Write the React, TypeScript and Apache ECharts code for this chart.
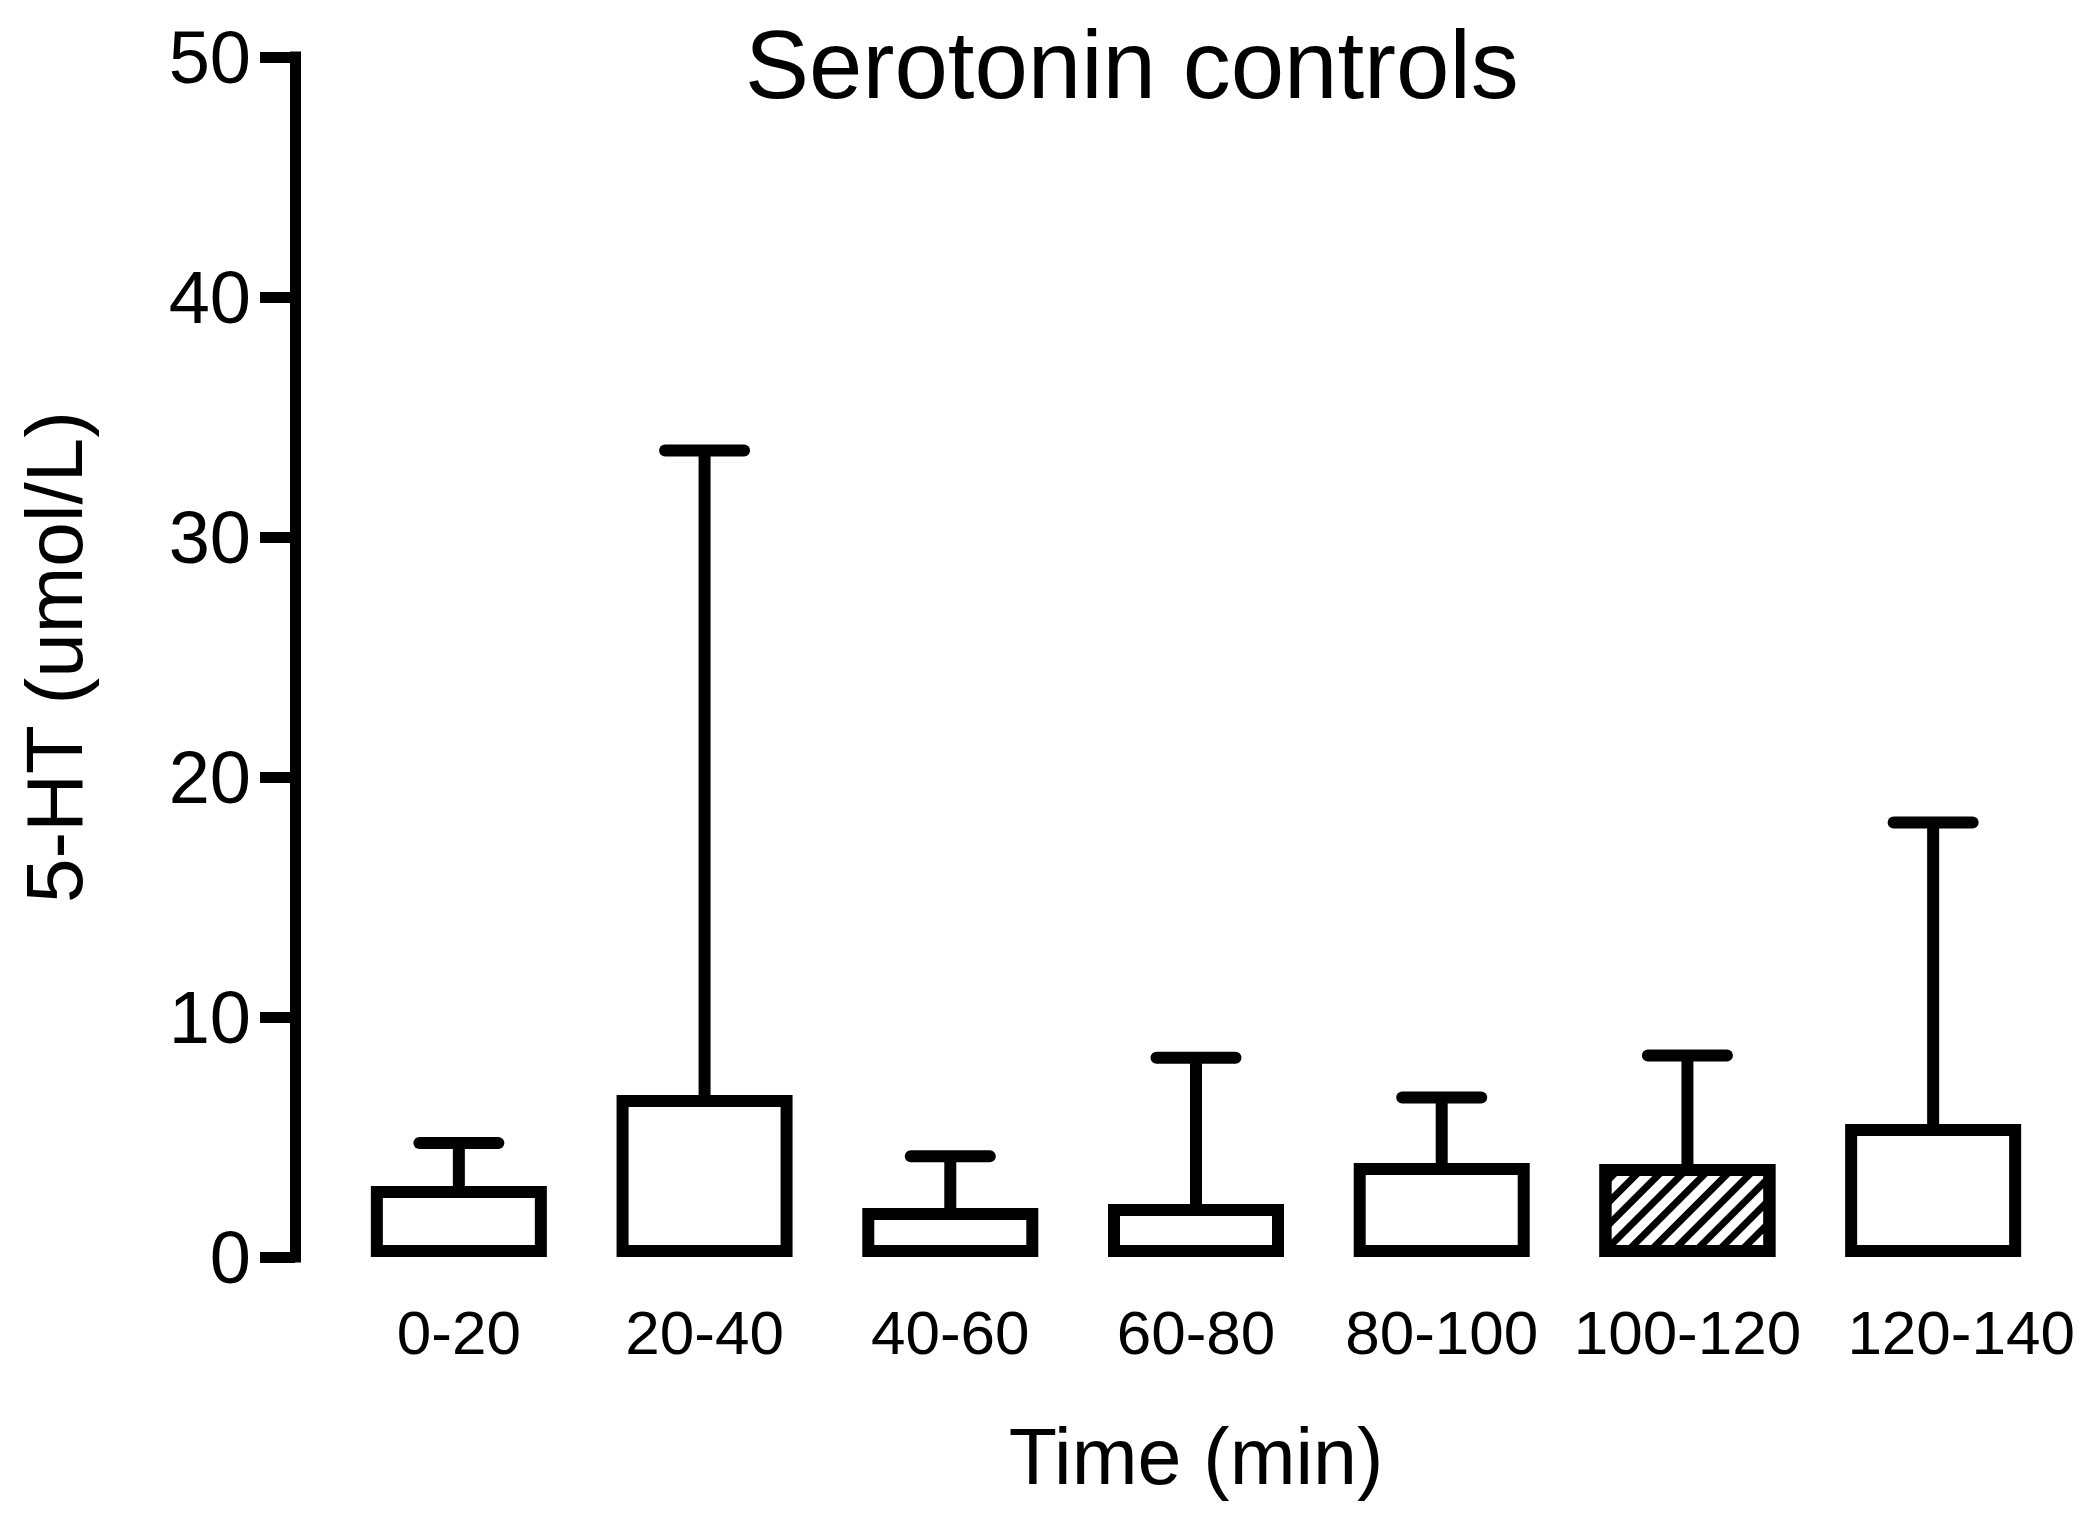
import React, { useEffect, useRef } from "react";
import * as echarts from "echarts";

const categories = ["0-20", "20-40", "40-60", "60-80", "80-100", "100-120", "120-140"];
const means = [2.96, 6.75, 2.04, 2.21, 3.92, 3.88, 5.54];
const upperErrors = [4.75, 33.6, 4.2, 8.3, 6.65, 8.4, 18.1];
const hatchedIndex = 5;
const yTicks = { min: 0, max: 50, interval: 10 };

const FONT = "'Liberation Sans', Arial, Helvetica, sans-serif";

export default function App() {
  const ref = useRef<HTMLDivElement>(null);

  useEffect(() => {
    if (!ref.current) return;
    const chart = echarts.init(ref.current, null, { renderer: "svg" });

    const barData = means.map((v, i) =>
      i === hatchedIndex
        ? {
            value: v,
            itemStyle: {
              color: "#fff",
              borderColor: "#000",
              borderWidth: 12,
              decal: {
                symbol: "rect",
                symbolSize: 1,
                dashArrayX: [1, 0],
                dashArrayY: [7, 9],
                rotation: -Math.PI / 4,
                color: "#000",
                backgroundColor: "#fff",
              },
            },
          }
        : v
    );

    const errData = means.map((v, i) => [i, v, upperErrors[i]]);

    chart.setOption({
      animation: false,
      backgroundColor: "#fff",
      title: {
        text: "Serotonin controls",
        left: 745,
        top: 16,
        padding: 0,
        textStyle: { fontSize: 96, fontWeight: "normal", color: "#000", fontFamily: FONT },
      },
      grid: { left: 336, right: 32, top: 57, bottom: 271 },
      xAxis: {
        type: "category",
        data: categories,
        axisLine: { show: false },
        axisTick: { show: false },
        axisLabel: {
          interval: 0,
          fontSize: 62,
          color: "#000",
          fontFamily: FONT,
          margin: 44,
          formatter: (v: string) => (v === "120-140" ? "{shift|" + v + "}" : v),
          rich: {
            shift: { fontSize: 62, color: "#000", fontFamily: FONT, padding: [0, 0, 0, 56] },
          },
        },
        name: "Time (min)",
        nameLocation: "middle",
        nameGap: 160,
        nameTextStyle: { fontSize: 79, color: "#000", fontFamily: FONT },
      },
      yAxis: {
        type: "value",
        min: yTicks.min,
        max: yTicks.max,
        interval: yTicks.interval,
        offset: 41,
        axisLine: { show: true, lineStyle: { color: "#000", width: 11, cap: "square" } },
        axisTick: { show: true, length: 35, lineStyle: { color: "#000", width: 11 } },
        splitLine: { show: false },
        axisLabel: { fontSize: 74, color: "#000", fontFamily: FONT, margin: 44 },
        name: "5-HT (umol/L)",
        nameLocation: "middle",
        nameGap: 201,
        nameTextStyle: { fontSize: 80, color: "#000", fontFamily: FONT },
      },
      series: [
        {
          type: "custom",
          coordinateSystem: "cartesian2d",
          z: 1,
          data: errData,
          encode: { x: 0, y: [1, 2] },
          renderItem: (params: any, api: any) => {
            const idx = api.value(0);
            const p1 = api.coord([idx, api.value(1)]);
            const p2 = api.coord([idx, api.value(2)]);
            const half = 39.5;
            return {
              type: "group",
              children: [
                {
                  type: "line",
                  shape: { x1: p1[0], y1: p1[1] + 6, x2: p2[0], y2: p2[1] },
                  style: { stroke: "#000", lineWidth: 12 },
                },
                {
                  type: "line",
                  shape: { x1: p2[0] - half, y1: p2[1], x2: p2[0] + half, y2: p2[1] },
                  style: { stroke: "#000", lineWidth: 12, lineCap: "round" },
                },
              ],
            };
          },
        },
        {
          type: "bar",
          z: 2,
          barWidth: 176,
          data: barData,
          itemStyle: { color: "#fff", borderColor: "#000", borderWidth: 12 },
        },
      ],
    });

    return () => chart.dispose();
  }, []);

  return (
    <div
      ref={ref}
      style={{ position: "fixed", left: 0, top: 0, width: 2088, height: 1528, background: "#fff" }}
    />
  );
}
